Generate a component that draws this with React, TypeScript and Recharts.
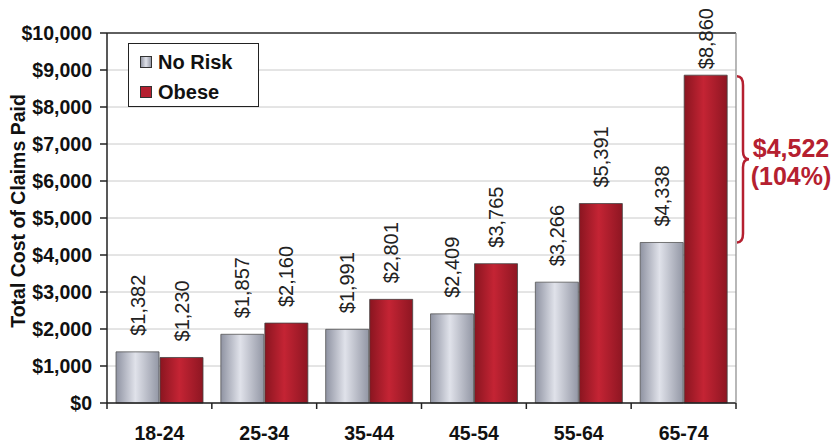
import React from 'react';
import {
  BarChart,
  Bar,
  XAxis,
  YAxis,
  CartesianGrid,
  LabelList,
  ReferenceLine,
  ReferenceArea,
} from 'recharts';

const ageGroups = ['18-24', '25-34', '35-44', '45-54', '55-64', '65-74'];
const noRisk = [1382, 1857, 1991, 2409, 3266, 4338];
const obese = [1230, 2160, 2801, 3765, 5391, 8860];
const yTicks = [0, 1000, 2000, 3000, 4000, 5000, 6000, 7000, 8000, 9000, 10000];
const gapLabel = '$4,522';
const gapPct = '(104%)';

const data = ageGroups.map((name, i) => ({ name, noRisk: noRisk[i], obese: obese[i] }));

const fmt = (v: number) => '$' + v.toLocaleString('en-US');

const FONT = "Arial, 'Liberation Sans', sans-serif";
const RED = '#b52030';

function ValueLabel(props: any) {
  const { x, y, width, value } = props;
  const text = fmt(value);
  const len = text.length * 10.2;
  const cx = x + width / 2 + 7;
  // keep the label inside the picture, like Excel does for the tallest bar
  const cy = Math.max(y - 16, len + 8);
  return (
    <text
      x={cx}
      y={cy}
      transform={`rotate(-90 ${cx} ${cy})`}
      fontSize={20}
      fontFamily={FONT}
      fill="#222"
      textAnchor="start"
    >
      {text}
    </text>
  );
}

function Brace(props: any) {
  const { x, y, width, height } = props;
  const bx = x + width + 1;
  const top = y + 1;
  const bot = y + height;
  const mid = (top + bot) / 2;
  const d = `M ${bx} ${top} Q ${bx + 6} ${top} ${bx + 6} ${top + 9} L ${bx + 6} ${mid - 8} Q ${bx + 6} ${mid} ${bx + 12} ${mid} Q ${bx + 6} ${mid} ${bx + 6} ${mid + 8} L ${bx + 6} ${bot - 9} Q ${bx + 6} ${bot} ${bx} ${bot}`;
  return (
    <g>
      <path d={d} fill="none" stroke={RED} strokeWidth={2.5} />
      <text x={791} y={mid - 2} textAnchor="middle" fontSize={25} fontWeight="bold" fill={RED} fontFamily={FONT}>
        {gapLabel}
      </text>
      <text x={791} y={mid + 26} textAnchor="middle" fontSize={25} fontWeight="bold" fill={RED} fontFamily={FONT}>
        {gapPct}
      </text>
    </g>
  );
}

// category label plus the small tick marks that sit on the band edges
function CategoryTick(props: any) {
  const { x, y, payload, index, visibleTicksCount } = props;
  const half = payload && payload.offset ? payload.offset : 52.4;
  const axisY = y - 23;
  return (
    <g>
      <line x1={x - half} x2={x - half} y1={axisY} y2={axisY + 6} stroke="#222" strokeWidth={1.5} />
      {index === visibleTicksCount - 1 && (
        <line x1={x + half} x2={x + half} y1={axisY} y2={axisY + 6} stroke="#222" strokeWidth={1.5} />
      )}
      <text x={x} y={y} dy="0.71em" textAnchor="middle" fontSize={19.5} fontWeight="bold" fill="#111" fontFamily={FONT}>
        {payload.value}
      </text>
    </g>
  );
}

function LegendBox() {
  const item = (label: string, fill: string) => (
    <div style={{ display: 'flex', alignItems: 'center', height: 30 }}>
      <div style={{ width: 10, height: 10, background: fill, border: '1px solid #333', marginRight: 6 }} />
      <span style={{ fontSize: 20, fontWeight: 'bold', color: '#111' }}>{label}</span>
    </div>
  );
  return (
    <div
      style={{
        position: 'absolute',
        left: 128,
        top: 43,
        width: 131,
        height: 64,
        border: '1.5px solid #222',
        background: '#fff',
        boxSizing: 'border-box',
        padding: '3px 0 0 11px',
        fontFamily: FONT,
        lineHeight: 1,
      }}
    >
      {item('No Risk', 'linear-gradient(90deg,#9599a6,#e0e2ea,#9599a6)')}
      {item('Obese', RED)}
    </div>
  );
}

const axisTick = { fontSize: 19.5, fontWeight: 'bold', fill: '#111', fontFamily: FONT };

export default function App() {
  return (
    <div style={{ width: 835, height: 443, background: '#fff', position: 'relative' }}>
      <style>{`body{margin:0}`}</style>
      <BarChart
        width={835}
        height={443}
        data={data}
        margin={{ top: 33, right: 98, left: 0, bottom: 0 }}
        barCategoryGap="8.6%"
        barGap={1}
      >
        <defs>
          <linearGradient id="silver" x1="0" y1="0" x2="1" y2="0">
            <stop offset="0%" stopColor="#8f93a2" />
            <stop offset="45%" stopColor="#e0e2ea" />
            <stop offset="100%" stopColor="#9397a5" />
          </linearGradient>
          <linearGradient id="red" x1="0" y1="0" x2="1" y2="0">
            <stop offset="0%" stopColor="#8a1520" />
            <stop offset="45%" stopColor="#c42434" />
            <stop offset="100%" stopColor="#8e1622" />
          </linearGradient>
        </defs>
        <CartesianGrid vertical={false} stroke="#cacaca" />
        <XAxis
          dataKey="name"
          height={40}
          tickLine={false}
          tickSize={0}
          tickMargin={23}
          axisLine={{ stroke: '#222', strokeWidth: 1.5 }}
          tick={<CategoryTick />}
        />
        <YAxis
          width={107}
          domain={[0, 10000]}
          ticks={yTicks}
          tickFormatter={fmt}
          tickSize={7}
          tickMargin={8}
          axisLine={{ stroke: '#222', strokeWidth: 1.5 }}
          tickLine={{ stroke: '#222', strokeWidth: 1.5 }}
          tick={axisTick}
          label={{
            content: () => (
              <text
                x={0}
                y={0}
                transform="translate(25 211) rotate(-90)"
                textAnchor="middle"
                fontSize={19.5}
                fontWeight="bold"
                fill="#111"
                fontFamily={FONT}
              >
                Total Cost of Claims Paid
              </text>
            ),
          }}
        />
        <YAxis
          yAxisId="frame"
          orientation="right"
          width={1}
          domain={[0, 10000]}
          tick={false}
          tickLine={false}
          axisLine={{ stroke: '#888', strokeWidth: 1.2 }}
        />
        <ReferenceLine y={10000} stroke="#333" strokeWidth={1.5} />
        <Bar dataKey="noRisk" name="No Risk" fill="url(#silver)" stroke="#555" strokeWidth={0.8} isAnimationActive={false}>
          <LabelList dataKey="noRisk" content={ValueLabel} />
        </Bar>
        <Bar dataKey="obese" name="Obese" fill="url(#red)" stroke="#444" strokeWidth={0.8} isAnimationActive={false}>
          <LabelList dataKey="obese" content={ValueLabel} />
        </Bar>
        <ReferenceArea
          x1={ageGroups[5]}
          x2={ageGroups[5]}
          y1={noRisk[5]}
          y2={obese[5]}
          ifOverflow="visible"
          fill="none"
          shape={(p: any) => <Brace {...p} />}
        />
      </BarChart>
      <LegendBox />
    </div>
  );
}
